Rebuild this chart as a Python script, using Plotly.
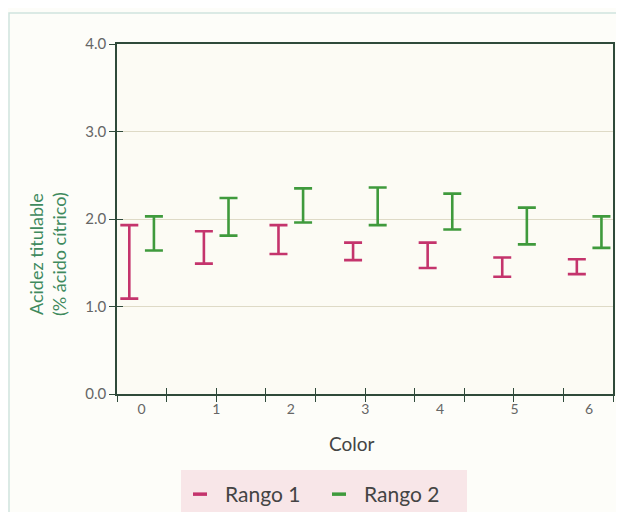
import numpy as np
import plotly.graph_objects as go

categories = [0, 1, 2, 3, 4, 5, 6]
tick_labels = ["0", "1", "2", "3", "4", "5", "6"]
rango1_low = [1.09, 1.49, 1.60, 1.53, 1.44, 1.34, 1.37]
rango1_high = [1.93, 1.86, 1.93, 1.73, 1.73, 1.56, 1.54]
rango2_low = [1.64, 1.81, 1.96, 1.93, 1.88, 1.71, 1.67]
rango2_high = [2.03, 2.24, 2.35, 2.36, 2.29, 2.13, 2.03]
y_ticks = [0, 1, 2, 3, 4]
y_tick_labels = ["0.0", "1.0", "2.0", "3.0", "4.0"]

MAGENTA = "#c4346c"
GREEN = "#3f9a3c"
AXIS = "#2f4a3a"
FONT = "Lato"

offset = 0.165
xmin, xmax = -0.33, 6.32
xtick_marks = list(np.linspace(xmin, xmax, 11))

fig = go.Figure()

def range_trace(lows, highs, dx, color):
    x = [c + dx for c in categories]
    return go.Scatter(
        x=x, y=lows, mode="markers",
        marker=dict(size=1, color="rgba(0,0,0,0)"),
        error_y=dict(type="data", symmetric=False,
                     array=[h - l for h, l in zip(highs, lows)],
                     arrayminus=[0] * len(lows),
                     color=color, thickness=2.6, width=9),
        showlegend=False, hoverinfo="skip")

fig.add_trace(range_trace(rango1_low, rango1_high, -offset, MAGENTA))
fig.add_trace(range_trace(rango2_low, rango2_high, offset, GREEN))

# invisible traces so the overlay axes (labels / inside ticks) get drawn
fig.add_trace(go.Scatter(x=categories, y=rango1_low, xaxis="x2", yaxis="y",
                         mode="markers", marker=dict(size=1, color="rgba(0,0,0,0)"),
                         showlegend=False, hoverinfo="skip"))
fig.add_trace(go.Scatter(x=categories, y=rango1_low, xaxis="x3", yaxis="y2",
                         mode="markers", marker=dict(size=1, color="rgba(0,0,0,0)"),
                         showlegend=False, hoverinfo="skip"))

# legend entries
fig.add_trace(go.Scatter(x=[None], y=[None], mode="markers", name="Rango 1",
                         marker=dict(symbol="line-ew", size=10,
                                     line=dict(color=MAGENTA, width=3.5))))
fig.add_trace(go.Scatter(x=[None], y=[None], mode="markers", name="Rango 2",
                         marker=dict(symbol="line-ew", size=10,
                                     line=dict(color=GREEN, width=3.5))))

# page body has an 8px margin: the figure occupies screen x 8..624, y 8..512
OFF = 8
W, H = 624 - OFF, 512 - OFF
SL, SR, ST, SB = 117, 613, 44, 394  # plot area in screen pixels
L, R, T, B = SL - OFF, OFF + W - SR, ST - OFF, OFF + H - SB
PW, PH = SR - SL, SB - ST

def px(xs):
    return (xs - SL) / PW

def py(ys):
    return (SB - ys) / PH

fig.update_layout(
    width=W, height=H,
    margin=dict(l=L, r=R, t=T, b=B, autoexpand=False),
    paper_bgcolor="#fdfdf9",
    plot_bgcolor="#fcfbf4",
    font=dict(family=FONT, color="#555"),
    xaxis=dict(range=[xmin, xmax], tickvals=xtick_marks, showticklabels=False,
               ticks="outside", ticklen=6, tickcolor=AXIS, tickwidth=1.3,
               showline=True, linecolor=AXIS, linewidth=1.5, mirror=True,
               showgrid=False, zeroline=False),
    xaxis2=dict(range=[xmin, xmax], overlaying="x", anchor="y", side="bottom",
                tickvals=categories, ticktext=tick_labels,
                ticks="outside", ticklen=2, tickcolor="rgba(0,0,0,0)",
                tickfont=dict(size=14, color="#666"),
                showline=False, showgrid=False, zeroline=False),
    xaxis3=dict(range=[xmin, xmax], overlaying="x", anchor="y2", side="bottom",
                tickvals=xtick_marks, showticklabels=False,
                ticks="inside", ticklen=6, tickcolor=AXIS, tickwidth=1.3,
                showline=False, showgrid=False, zeroline=False),
    yaxis=dict(range=[0, 4], tickvals=y_ticks, ticktext=y_tick_labels,
               ticks="outside", ticklen=6, tickcolor=AXIS, tickwidth=1.3,
               tickfont=dict(size=15, color="#666"),
               showline=True, linecolor=AXIS, linewidth=1.5, mirror=True,
               showgrid=True, gridcolor="#dedac6", gridwidth=1, zeroline=False),
    yaxis2=dict(range=[0, 4], overlaying="y", anchor="x3", side="left",
                tickvals=y_ticks, showticklabels=False,
                ticks="inside", ticklen=6, tickcolor=AXIS, tickwidth=1.3,
                showline=False, showgrid=False, zeroline=False),
    legend=dict(orientation="h", xref="container", yref="container",
                x=(175 - OFF) / W, xanchor="left", y=1 - (474 - OFF) / H, yanchor="top",
                bgcolor="rgba(0,0,0,0)", entrywidth=84, entrywidthmode="pixels",
                itemwidth=40,
                font=dict(size=21, color="#444", family=FONT)),
    shapes=[
        dict(type="rect", xref="paper", yref="paper",
             x0=px(181), x1=px(467), y0=py(530), y1=py(470),
             fillcolor="#f8e6e8", line=dict(width=0), layer="below"),
        dict(type="rect", xref="paper", yref="paper",
             x0=px(9), x1=px(640), y0=py(540), y1=py(13),
             fillcolor="rgba(0,0,0,0)", line=dict(color="#cfe4de", width=1.5),
             layer="below"),
    ],
    annotations=[
        dict(text="Acidez titulable<br>(% ácido cítrico)", textangle=-90,
             xref="paper", yref="paper", x=px(47), y=py(254),
             xanchor="center", yanchor="middle", showarrow=False,
             font=dict(size=18, color="#3f8a5e", family=FONT)),
        dict(text="Color", xref="paper", yref="paper",
             x=px(352), y=py(443),
             xanchor="center", yanchor="middle", showarrow=False,
             font=dict(size=19, color="#444", family=FONT)),
    ],
)

fig.write_html("out.html")
